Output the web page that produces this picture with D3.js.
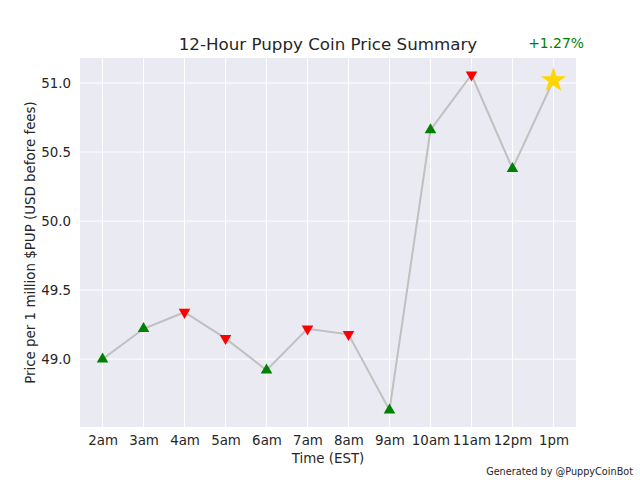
<!DOCTYPE html>
<meta charset="utf-8">
<script src="https://d3js.org/d3.v7.min.js"></script>
<style>
  body { margin: 0; background: #fff; }
  text { font-family: "DejaVu Sans", sans-serif; fill: #262626; }
</style>
<div id="chart"></div>
<script>

// hourly labels and prices
var hours = ["2am", "3am", "4am", "5am", "6am", "7am", "8am", "9am", "10am", "11am", "12pm", "1pm"];
var prices = [49.00, 49.22, 49.34, 49.15, 48.92, 49.22, 49.18, 48.63, 50.66, 51.06, 50.38, 51.02];
// marker kind per point: "up" green triangle, "down" red triangle, "now" gold star
var signals = ["up", "up", "down", "down", "up", "down", "down", "up", "up", "down", "up", "now"];
var yTicks = [49.0, 49.5, 50.0, 50.5, 51.0];
var changeLabel = "+1.27%";

var W = 640, H = 480;
var margin = {top: 58, right: 64, bottom: 53, left: 80},
    width = W - margin.left - margin.right,
    height = H - margin.top - margin.bottom;

var svg = d3.select("#chart").append("svg")
    .attr("width", W).attr("height", H);

var g = svg.append("g")
    .attr("transform", "translate(" + margin.left + "," + margin.top + ")");

// matplotlib style 5% margins
var x = d3.scaleLinear().domain([-0.55, hours.length - 1 + 0.55]).range([0, width]);
var lo = d3.min(prices), hi = d3.max(prices), pad = (hi - lo) * 0.05;
var y = d3.scaleLinear().domain([lo - pad, hi + pad]).range([height, 0]);

g.append("rect").attr("width", width).attr("height", height).attr("fill", "#EAEAF2");

// grid
g.selectAll(".vgrid").data(hours).enter().append("line")
    .attr("x1", function(d, i) { return x(i); }).attr("x2", function(d, i) { return x(i); })
    .attr("y1", 0).attr("y2", height)
    .attr("stroke", "#fff").attr("stroke-width", 1);
g.selectAll(".hgrid").data(yTicks).enter().append("line")
    .attr("x1", 0).attr("x2", width)
    .attr("y1", function(d) { return y(d); }).attr("y2", function(d) { return y(d); })
    .attr("stroke", "#fff").attr("stroke-width", 1);

// axes (no tick marks, seaborn darkgrid look)
var xAxis = g.append("g").attr("transform", "translate(0," + height + ")")
    .call(d3.axisBottom(x).tickValues(d3.range(hours.length))
      .tickFormat(function(i) { return hours[i]; }).tickSize(0).tickPadding(8));
var yAxis = g.append("g")
    .call(d3.axisLeft(y).tickValues(yTicks).tickFormat(d3.format(".1f")).tickSize(0).tickPadding(9));
[xAxis, yAxis].forEach(function(a) {
  a.select(".domain").remove();
  a.selectAll("text").style("font-size", "13.4px").attr("fill", "#262626")
    .style("font-family", "DejaVu Sans, sans-serif");
});

// price line
g.append("path")
    .datum(prices)
    .attr("d", d3.line().x(function(d, i) { return x(i); }).y(function(d) { return y(d); }))
    .attr("fill", "none")
    .attr("stroke", "#c0c0c0")
    .attr("stroke-width", 2);

// markers
var tri = d3.symbol().type(d3.symbolTriangle).size(58);
var star = d3.symbol().type(d3.symbolStar).size(200);
g.selectAll(".mark").data(prices).enter().append("path")
    .attr("transform", function(d, i) {
      var r = signals[i] == "down" ? 180 : 0;
      return "translate(" + x(i) + "," + y(d) + ") rotate(" + r + ")";
    })
    .attr("d", function(d, i) { return signals[i] == "now" ? star() : tri(); })
    .attr("fill", function(d, i) {
      return signals[i] == "now" ? "#FFD700" : (signals[i] == "up" ? "green" : "red");
    });

// texts
svg.append("text").attr("x", margin.left + width / 2).attr("y", 50)
    .attr("text-anchor", "middle").style("font-size", "16.7px")
    .text("12-Hour Puppy Coin Price Summary");

svg.append("text").attr("x", 584).attr("y", 48)
    .attr("text-anchor", "end").style("font-size", "13.9px").style("fill", "green")
    .text(changeLabel);

svg.append("text").attr("x", margin.left + width / 2).attr("y", 463)
    .attr("text-anchor", "middle").style("font-size", "13.4px")
    .text("Time (EST)");

svg.append("text")
    .attr("transform", "translate(35," + (margin.top + height / 2) + ") rotate(-90)")
    .attr("text-anchor", "middle").style("font-size", "13.4px")
    .text("Price per 1 million $PUP (USD before fees)");

svg.append("text").attr("x", 633).attr("y", 475)
    .attr("text-anchor", "end").style("font-size", "9.7px")
    .text("Generated by @PuppyCoinBot");

</script>
